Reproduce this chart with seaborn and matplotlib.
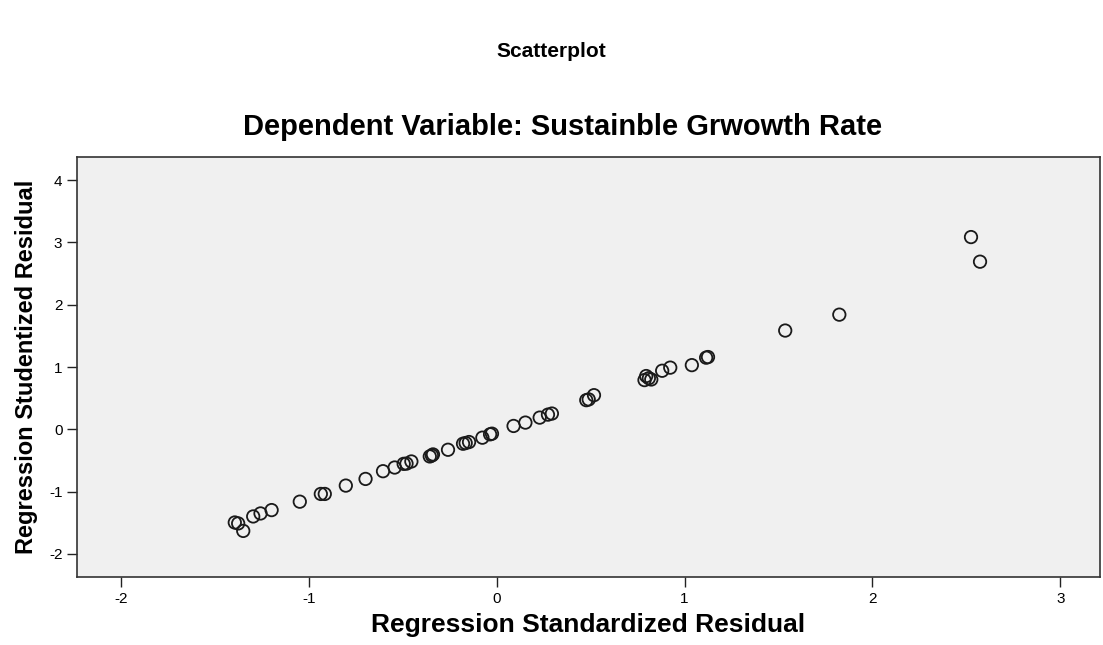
import pandas as pd
import matplotlib.pyplot as plt
import seaborn as sns

# values
std_resid = [-1.394, -1.376, -1.349, -1.296, -1.257, -1.198, -1.048, -0.936, -0.915,
             -0.803, -0.698, -0.605, -0.543, -0.495, -0.480, -0.454, -0.356, -0.345,
             -0.339, -0.259, -0.179, -0.165, -0.147, -0.076, -0.035, -0.025, 0.090,
             0.153, 0.229, 0.273, 0.294, 0.477, 0.490, 0.518, 0.787, 0.796, 0.810,
             0.823, 0.881, 0.924, 1.039, 1.115, 1.125, 1.536, 1.824, 2.525, 2.573]
stud_resid = [-1.495, -1.510, -1.630, -1.398, -1.350, -1.296, -1.161, -1.037, -1.037,
              -0.903, -0.796, -0.672, -0.613, -0.554, -0.550, -0.516, -0.435, -0.420,
              -0.403, -0.328, -0.231, -0.220, -0.204, -0.134, -0.080, -0.070, 0.054,
              0.108, 0.188, 0.236, 0.253, 0.468, 0.480, 0.548, 0.790, 0.855, 0.820,
              0.800, 0.940, 0.990, 1.030, 1.150, 1.160, 1.585, 1.840, 3.085, 2.690]
x_ticks = [-2, -1, 0, 1, 2, 3]
y_ticks = [-2, -1, 0, 1, 2, 3, 4]

df = pd.DataFrame({'std': std_resid, 'stud': stud_resid})

sns.set_style('white')
plt.rcParams['font.family'] = ['Liberation Sans', 'DejaVu Sans']

fig = plt.figure(figsize=(11.03, 6.45), dpi=100)
ax = fig.add_axes([0.0698, 0.1054, 0.9272, 0.6512])
ax.set_facecolor('#F0F0F0')

sns.scatterplot(data=df, x='std', y='stud', ax=ax, marker='o', s=80,
                facecolors='none', edgecolor='#1a1a1a', linewidth=1.3)

ax.set_xlim(-2.234, 3.21)
ax.set_ylim(-2.37, 4.37)
ax.set_xticks(x_ticks)
ax.set_yticks(y_ticks)
ax.set_xticklabels([str(t) for t in x_ticks])
ax.set_yticklabels([str(t) for t in y_ticks])
ax.tick_params(axis='both', direction='out', length=7, width=1, color='#222222',
               labelsize=11, labelcolor='black', bottom=True, left=True)
for sp in ax.spines.values():
    sp.set_color('#333333')
    sp.set_linewidth(1.2)

ax.set_xlabel('Regression Standardized Residual', fontsize=19, fontweight='bold',
              labelpad=5, color='black')
ax.set_ylabel('Regression Studentized Residual', fontsize=17, fontweight='bold',
              labelpad=8, color='black')
fig.text(0.51, 0.803, 'Dependent Variable: Sustainble Grwowth Rate', ha='center', va='center',
         fontsize=21, fontweight='bold', color='black')
fig.text(0.5, 0.92, 'Scatterplot', ha='center', va='center', fontsize=15,
         fontweight='bold', color='black')

fig.savefig('out.png', dpi=100)
